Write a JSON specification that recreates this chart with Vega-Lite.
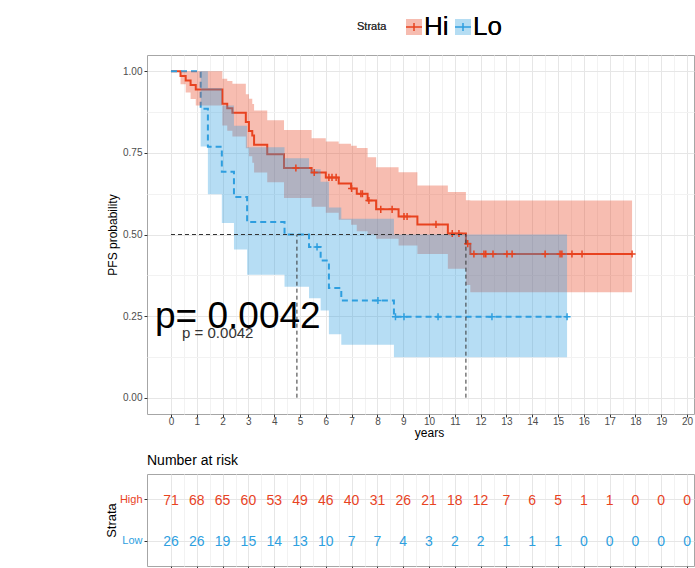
{
  "$schema": "https://vega.github.io/schema/vega-lite/v6.json",
  "padding": {"left": 104, "top": 13, "right": 0, "bottom": 0},
  "config": {
    "font": "Liberation Sans",
    "view": {"stroke": "#A6A6A6", "strokeWidth": 1},
    "axis": {
      "labelFont": "Liberation Sans",
      "titleFont": "Liberation Sans",
      "titleFontWeight": "normal",
      "titleColor": "#000000",
      "labelColor": "#4D4D4D",
      "tickColor": "#333333",
      "domain": false,
      "labelFlush": false,
      "labelOverlap": false
    }
  },
  "datasets": {
    "curve": [
      {"strata": "Hi", "time": 0, "surv": 1, "lower": 1, "upper": 1},
      {"strata": "Hi", "time": 0.37, "surv": 0.986, "lower": 0.96, "upper": 1},
      {"strata": "Hi", "time": 0.57, "surv": 0.972, "lower": 0.935, "upper": 1},
      {"strata": "Hi", "time": 0.76, "surv": 0.958, "lower": 0.915, "upper": 1},
      {"strata": "Hi", "time": 0.96, "surv": 0.944, "lower": 0.895, "upper": 1},
      {"strata": "Hi", "time": 1.99, "surv": 0.901, "lower": 0.834, "upper": 0.977},
      {"strata": "Hi", "time": 2.18, "surv": 0.887, "lower": 0.818, "upper": 0.97},
      {"strata": "Hi", "time": 2.38, "surv": 0.873, "lower": 0.8, "upper": 0.962},
      {"strata": "Hi", "time": 2.9, "surv": 0.845, "lower": 0.764, "upper": 0.93},
      {"strata": "Hi", "time": 3.02, "surv": 0.817, "lower": 0.74, "upper": 0.916},
      {"strata": "Hi", "time": 3.15, "surv": 0.803, "lower": 0.72, "upper": 0.9},
      {"strata": "Hi", "time": 3.22, "surv": 0.775, "lower": 0.69, "upper": 0.88},
      {"strata": "Hi", "time": 3.73, "surv": 0.746, "lower": 0.66, "upper": 0.85},
      {"strata": "Hi", "time": 4.38, "surv": 0.704, "lower": 0.612, "upper": 0.82},
      {"strata": "Hi", "time": 5.45, "surv": 0.69, "lower": 0.585, "upper": 0.795},
      {"strata": "Hi", "time": 6.0, "surv": 0.675, "lower": 0.567, "upper": 0.785},
      {"strata": "Hi", "time": 6.5, "surv": 0.656, "lower": 0.545, "upper": 0.778},
      {"strata": "Hi", "time": 6.98, "surv": 0.641, "lower": 0.53, "upper": 0.772},
      {"strata": "Hi", "time": 7.2, "surv": 0.625, "lower": 0.51, "upper": 0.765},
      {"strata": "Hi", "time": 7.62, "surv": 0.604, "lower": 0.5, "upper": 0.737},
      {"strata": "Hi", "time": 7.95, "surv": 0.577, "lower": 0.487, "upper": 0.706},
      {"strata": "Hi", "time": 8.82, "surv": 0.555, "lower": 0.466, "upper": 0.691},
      {"strata": "Hi", "time": 9.55, "surv": 0.531, "lower": 0.44, "upper": 0.65},
      {"strata": "Hi", "time": 10.73, "surv": 0.503, "lower": 0.395, "upper": 0.63},
      {"strata": "Hi", "time": 11.43, "surv": 0.472, "lower": 0.345, "upper": 0.605},
      {"strata": "Hi", "time": 11.6, "surv": 0.44, "lower": 0.323, "upper": 0.604},
      {"strata": "Hi", "time": 17.87, "surv": 0.44, "lower": 0.323, "upper": 0.604},
      {"strata": "Lo", "time": 0, "surv": 1, "lower": 1, "upper": 1},
      {"strata": "Lo", "time": 1.15, "surv": 0.885, "lower": 0.77, "upper": 1},
      {"strata": "Lo", "time": 1.43, "surv": 0.769, "lower": 0.623, "upper": 0.949},
      {"strata": "Lo", "time": 1.97, "surv": 0.692, "lower": 0.535, "upper": 0.895},
      {"strata": "Lo", "time": 2.44, "surv": 0.615, "lower": 0.454, "upper": 0.833},
      {"strata": "Lo", "time": 2.95, "surv": 0.538, "lower": 0.377, "upper": 0.767},
      {"strata": "Lo", "time": 4.4, "surv": 0.5, "lower": 0.34, "upper": 0.734},
      {"strata": "Lo", "time": 5.35, "surv": 0.462, "lower": 0.305, "upper": 0.7},
      {"strata": "Lo", "time": 5.8, "surv": 0.42, "lower": 0.267, "upper": 0.662},
      {"strata": "Lo", "time": 6.12, "surv": 0.336, "lower": 0.194, "upper": 0.583},
      {"strata": "Lo", "time": 6.6, "surv": 0.298, "lower": 0.162, "upper": 0.548},
      {"strata": "Lo", "time": 8.64, "surv": 0.248, "lower": 0.124, "upper": 0.5},
      {"strata": "Lo", "time": 15.35, "surv": 0.248, "lower": 0.124, "upper": 0.5}
    ],
    "censor": [
      {"strata": "Hi", "time": 4.84, "surv": 0.704},
      {"strata": "Hi", "time": 5.55, "surv": 0.69},
      {"strata": "Hi", "time": 6.12, "surv": 0.675},
      {"strata": "Hi", "time": 6.24, "surv": 0.675},
      {"strata": "Hi", "time": 6.4, "surv": 0.675},
      {"strata": "Hi", "time": 7.0, "surv": 0.641},
      {"strata": "Hi", "time": 7.36, "surv": 0.625},
      {"strata": "Hi", "time": 7.42, "surv": 0.625},
      {"strata": "Hi", "time": 7.67, "surv": 0.604},
      {"strata": "Hi", "time": 8.13, "surv": 0.577},
      {"strata": "Hi", "time": 8.57, "surv": 0.577},
      {"strata": "Hi", "time": 9.03, "surv": 0.555},
      {"strata": "Hi", "time": 9.15, "surv": 0.555},
      {"strata": "Hi", "time": 10.27, "surv": 0.531},
      {"strata": "Hi", "time": 10.9, "surv": 0.503},
      {"strata": "Hi", "time": 11.16, "surv": 0.503},
      {"strata": "Hi", "time": 11.5, "surv": 0.472},
      {"strata": "Hi", "time": 11.74, "surv": 0.44},
      {"strata": "Hi", "time": 12.13, "surv": 0.44},
      {"strata": "Hi", "time": 12.2, "surv": 0.44},
      {"strata": "Hi", "time": 12.48, "surv": 0.44},
      {"strata": "Hi", "time": 13.02, "surv": 0.44},
      {"strata": "Hi", "time": 13.22, "surv": 0.44},
      {"strata": "Hi", "time": 14.5, "surv": 0.44},
      {"strata": "Hi", "time": 15.08, "surv": 0.44},
      {"strata": "Hi", "time": 15.15, "surv": 0.44},
      {"strata": "Hi", "time": 15.54, "surv": 0.44},
      {"strata": "Hi", "time": 15.93, "surv": 0.44},
      {"strata": "Hi", "time": 17.87, "surv": 0.44},
      {"strata": "Lo", "time": 5.66, "surv": 0.462},
      {"strata": "Lo", "time": 8.02, "surv": 0.298},
      {"strata": "Lo", "time": 8.7, "surv": 0.248},
      {"strata": "Lo", "time": 9.03, "surv": 0.248},
      {"strata": "Lo", "time": 10.35, "surv": 0.248},
      {"strata": "Lo", "time": 12.44, "surv": 0.248},
      {"strata": "Lo", "time": 15.35, "surv": 0.248}
    ],
    "median": [
      {"time": 0, "time_end": 11.43, "surv": 0.5, "surv_end": 0.5},
      {"time": 4.88, "time_end": 4.88, "surv": 0, "surv_end": 0.5},
      {"time": 11.43, "time_end": 11.43, "surv": 0, "surv_end": 0.5}
    ],
    "risk": [
      {"strata": "High", "time": 0, "n": 71}, {"strata": "High", "time": 1, "n": 68},
      {"strata": "High", "time": 2, "n": 65}, {"strata": "High", "time": 3, "n": 60},
      {"strata": "High", "time": 4, "n": 53}, {"strata": "High", "time": 5, "n": 49},
      {"strata": "High", "time": 6, "n": 46}, {"strata": "High", "time": 7, "n": 40},
      {"strata": "High", "time": 8, "n": 31}, {"strata": "High", "time": 9, "n": 26},
      {"strata": "High", "time": 10, "n": 21}, {"strata": "High", "time": 11, "n": 18},
      {"strata": "High", "time": 12, "n": 12}, {"strata": "High", "time": 13, "n": 7},
      {"strata": "High", "time": 14, "n": 6}, {"strata": "High", "time": 15, "n": 5},
      {"strata": "High", "time": 16, "n": 1}, {"strata": "High", "time": 17, "n": 1},
      {"strata": "High", "time": 18, "n": 0}, {"strata": "High", "time": 19, "n": 0},
      {"strata": "High", "time": 20, "n": 0},
      {"strata": "Low", "time": 0, "n": 26}, {"strata": "Low", "time": 1, "n": 26},
      {"strata": "Low", "time": 2, "n": 19}, {"strata": "Low", "time": 3, "n": 15},
      {"strata": "Low", "time": 4, "n": 14}, {"strata": "Low", "time": 5, "n": 13},
      {"strata": "Low", "time": 6, "n": 10}, {"strata": "Low", "time": 7, "n": 7},
      {"strata": "Low", "time": 8, "n": 7}, {"strata": "Low", "time": 9, "n": 4},
      {"strata": "Low", "time": 10, "n": 3}, {"strata": "Low", "time": 11, "n": 2},
      {"strata": "Low", "time": 12, "n": 2}, {"strata": "Low", "time": 13, "n": 1},
      {"strata": "Low", "time": 14, "n": 1}, {"strata": "Low", "time": 15, "n": 1},
      {"strata": "Low", "time": 16, "n": 0}, {"strata": "Low", "time": 17, "n": 0},
      {"strata": "Low", "time": 18, "n": 0}, {"strata": "Low", "time": 19, "n": 0},
      {"strata": "Low", "time": 20, "n": 0}
    ]
  },
  "bounds": "flush",
  "spacing": 60,
  "resolve": {"scale": {"x": "independent", "fill": "independent", "stroke": "independent", "color": "independent"}},
  "vconcat": [
    {
      "width": 547,
      "height": 359,
      "encoding": {
        "x": {
          "field": "time", "type": "quantitative",
          "scale": {"domain": [-0.93, 20.27], "nice": false, "zero": false},
          "axis": {
            "title": "years", "titleFontSize": 12, "titlePadding": 1, "titleX": 282,
            "values": [0,0.5,1,1.5,2,2.5,3,3.5,4,4.5,5,5.5,6,6.5,7,7.5,8,8.5,9,9.5,10,10.5,11,11.5,12,12.5,13,13.5,14,14.5,15,15.5,16,16.5,17,17.5,18,18.5,19,19.5,20],
            "labelExpr": "datum.value % 1 == 0 ? format(datum.value, 'd') : ''",
            "labelFontSize": 10, "labelPadding": -1, "tickSize": 3,
            "tickOpacity": {"condition": {"test": "datum.value % 1 != 0", "value": 0}, "value": 1},
            "grid": true,
            "gridColor": {"condition": {"test": "datum.value % 1 != 0", "value": "#F2F2F2"}, "value": "#E6E6E6"}
          }
        },
        "y": {
          "field": "surv", "type": "quantitative",
          "scale": {"domain": [-0.05, 1.05], "nice": false, "zero": false},
          "axis": {
            "title": "PFS probability", "titleFontSize": 12, "titlePadding": 4,
            "values": [0,0.125,0.25,0.375,0.5,0.625,0.75,0.875,1],
            "labelExpr": "datum.value % 0.25 == 0 ? format(datum.value, '.2f') : ''",
            "labelFontSize": 10, "labelPadding": 2, "tickSize": 3,
            "minExtent": 24, "maxExtent": 24,
            "tickOpacity": {"condition": {"test": "datum.value % 0.25 != 0", "value": 0}, "value": 1},
            "grid": true,
            "gridColor": {"condition": {"test": "datum.value % 0.25 != 0", "value": "#F2F2F2"}, "value": "#E6E6E6"}
          }
        }
      },
      "layer": [
        {
          "data": {"name": "curve"},
          "mark": {"type": "line", "interpolate": "step-after", "strokeWidth": 2},
          "encoding": {
            "stroke": {
              "field": "strata", "type": "nominal",
              "scale": {"domain": ["Hi", "Lo"], "range": ["#E8431F", "#2E9FDF"]},
              "legend": {
                "orient": "none", "legendX": 210, "legendY": -41,
                "direction": "horizontal", "title": "Strata", "titleOrient": "left",
                "titleFontSize": 11, "titleFontWeight": "normal", "titleColor": "#333333", "titlePadding": 14,
                "symbolType": "M-1,0H1M0,-0.5V0.5", "symbolSize": 256, "symbolStrokeWidth": 1.5,
                "labelFontSize": 26, "labelColor": "#000000", "labelOffset": -3, "columnPadding": 1
              }
            },
            "strokeDash": {
              "field": "strata", "type": "nominal",
              "scale": {"domain": ["Hi", "Lo"], "range": [[1, 0], [6, 4]]},
              "legend": null
            }
          }
        },
        {
          "data": {"name": "curve"},
          "mark": {"type": "area", "interpolate": "step-after", "opacity": 0.35},
          "encoding": {
            "y": {
              "field": "lower", "type": "quantitative",
              "scale": {"domain": [-0.05, 1.05], "nice": false, "zero": false},
              "title": "PFS probability"
            },
            "y2": {"field": "upper"},
            "fill": {
              "field": "strata", "type": "nominal",
              "scale": {"range": ["#E8431F", "#2E9FDF"]},
              "legend": {
                "orient": "none", "legendX": 210, "legendY": -41,
                "direction": "horizontal", "title": "Strata", "titleOrient": "left",
                "titleFontSize": 11, "titleFontWeight": "normal", "titleColor": "#333333", "titlePadding": 14,
                "symbolType": "square", "symbolSize": 256, "symbolOpacity": 0.35,
                "symbolStrokeWidth": 1.5, "symbolStrokeColor": "transparent",
                "labelFontSize": 26, "labelColor": "#000000", "labelOffset": -3, "columnPadding": 1
              }
            }
          }
        },
        {
          "data": {"name": "censor"},
          "mark": {"type": "point", "shape": "M-1,0H1M0,-1V1", "size": 50, "strokeWidth": 1.5, "filled": false, "opacity": 1},
          "encoding": {
            "stroke": {"field": "strata", "type": "nominal"}
          }
        },
        {
          "data": {"name": "median"},
          "mark": {"type": "rule", "color": "#333333", "strokeDash": [4, 3], "strokeWidth": 1},
          "encoding": {
            "x2": {"field": "time_end"},
            "y2": {"field": "surv_end"}
          }
        },
        {
          "data": {"values": [{"label": "p = 0.0042", "time": 0.43, "surv": 0.184}]},
          "mark": {"type": "text", "align": "left", "baseline": "alphabetic", "fontSize": 15, "color": "#333333"},
          "encoding": {"text": {"field": "label"}}
        },
        {
          "data": {"values": [{"label": "p= 0.0042", "time": -0.62, "surv": 0.215}]},
          "mark": {"type": "text", "align": "left", "baseline": "alphabetic", "fontSize": 37, "color": "#000000"},
          "encoding": {"text": {"field": "label"}}
        }
      ]
    },
    {
      "width": 547,
      "height": 92,
      "title": {"text": "Number at risk", "anchor": "start", "frame": "group", "fontSize": 14, "fontWeight": "normal", "color": "#000000", "offset": 6},
      "data": {"name": "risk"},
      "mark": {"type": "text", "fontSize": 14, "dy": 1.5},
      "encoding": {
        "x": {
          "field": "time", "type": "quantitative",
          "scale": {"domain": [-0.93, 20.27], "nice": false, "zero": false},
          "axis": {
            "title": null, "labels": false, "tickSize": 3,
            "values": [0,0.5,1,1.5,2,2.5,3,3.5,4,4.5,5,5.5,6,6.5,7,7.5,8,8.5,9,9.5,10,10.5,11,11.5,12,12.5,13,13.5,14,14.5,15,15.5,16,16.5,17,17.5,18,18.5,19,19.5,20],
            "tickOpacity": {"condition": {"test": "datum.value % 1 != 0", "value": 0}, "value": 1},
            "grid": true,
            "gridColor": {"condition": {"test": "datum.value % 1 != 0", "value": "#F2F2F2"}, "value": "#E6E6E6"}
          }
        },
        "y": {
          "field": "strata", "type": "nominal",
          "scale": {"type": "point", "padding": 0.6, "domain": ["High", "Low"]},
          "axis": {
            "title": "Strata", "titleFontSize": 13, "titlePadding": 5,
            "labelFontSize": 11, "labelPadding": 2, "tickSize": 3,
            "minExtent": 24, "maxExtent": 24,
            "labelColor": {"expr": "datum.value == 'High' ? '#E8431F' : '#2E9FDF'"},
            "grid": true, "gridColor": "#E6E6E6"
          }
        },
        "text": {"field": "n", "type": "quantitative"},
        "color": {
          "field": "strata", "type": "nominal",
          "scale": {"domain": ["High", "Low"], "range": ["#E8431F", "#2E9FDF"]},
          "legend": null
        }
      }
    }
  ]
}
